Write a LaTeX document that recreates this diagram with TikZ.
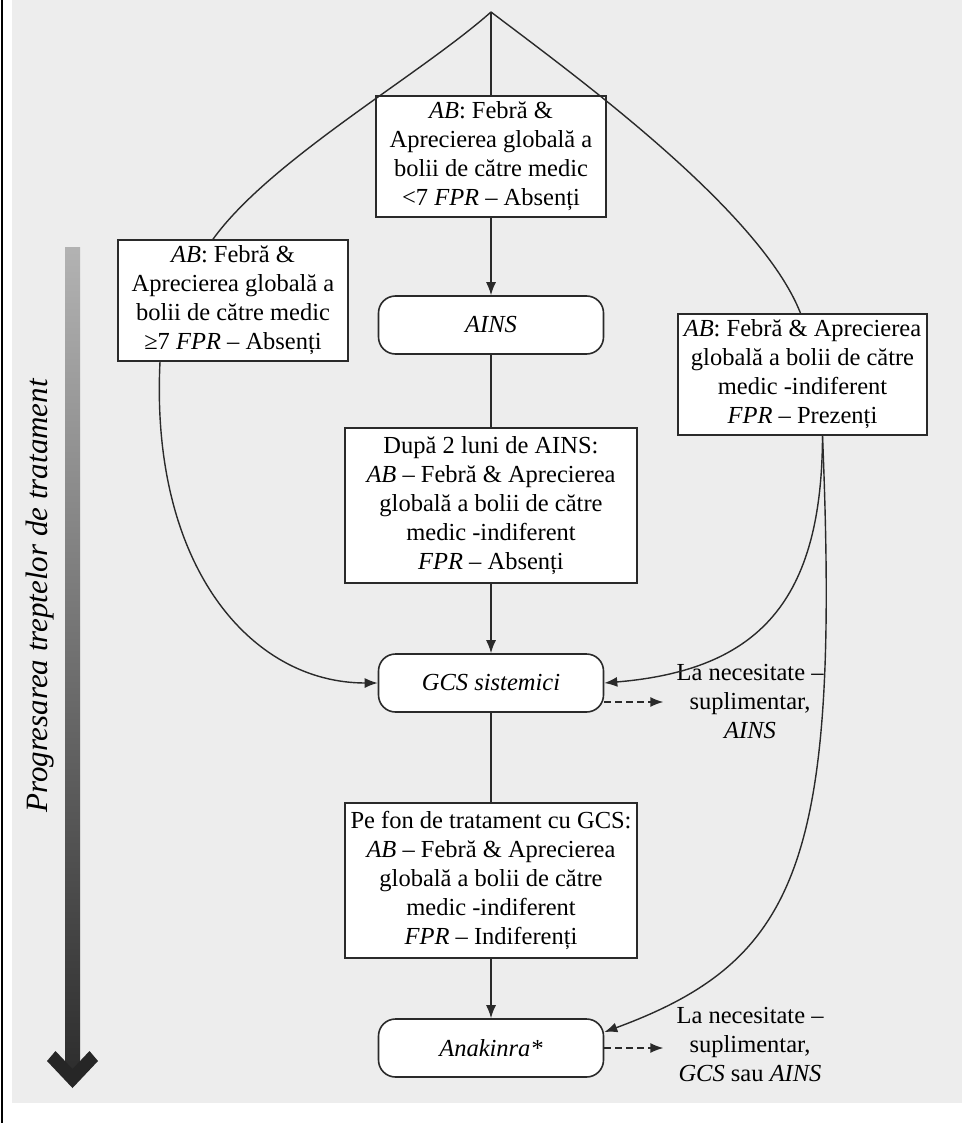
\documentclass[tikz,border=0pt]{standalone}
\usepackage{fontspec}
\setmainfont{Liberation Serif}
\usetikzlibrary{arrows.meta}
\definecolor{paper}{HTML}{EDEDED}
\definecolor{ink}{HTML}{2A2A2A}
\begin{document}
\begin{tikzpicture}[x=1pt,y=-1pt,
  txt/.style={font=\fontsize{24.5}{29}\selectfont},
  box/.style={txt, draw=ink, line width=1.6pt, fill=white, align=center,
    inner sep=0pt},
  pill/.style={draw=ink, line width=1.6pt, fill=white, align=center,
    rounded corners=17pt, minimum width=225pt, minimum height=58pt, inner sep=0pt,
    font=\fontsize{24.5}{29}\selectfont\itshape},
  note/.style={txt, align=center, inner sep=0pt},
  link/.style={draw=ink, line width=1.4pt},
  tip/.style={link, -{Latex[length=13pt,width=10pt]}},
  dtip/.style={link, dashed, dash pattern=on 7pt off 4pt, -{Latex[length=13pt,width=10pt]}}
]
% canvas
\useasboundingbox (0,0) rectangle (962,1123);
\fill[white] (0,0) rectangle (962,1123);
\fill[paper] (12,0) rectangle (962,1103);
\draw[black, line width=2pt] (1.5,0) -- (1.5,1123);

% progression bar on the left
\shade[top color=black!30, bottom color=black!82] (65,247) rectangle (80,1070);
\fill[black!85] (72.5,1088) -- (47,1061) -- (55.5,1051) -- (72.5,1069)
  -- (89.5,1051) -- (98,1061) -- cycle;
\node[inner sep=0pt, rotate=90, font=\fontsize{31}{35}\selectfont\itshape] (prog) at (40,596)
  {Progresarea treptelor de tratament};

% boxes
\coordinate (apex) at (491,12);
\node[box, minimum width=230pt, minimum height=121pt] (top) at (491,156.5)
  {\textit{AB}: Febră \&\\Aprecierea globală a\\bolii de către medic\\<7 \textit{FPR} – Absenți};
\node[box, minimum width=230pt, minimum height=121pt] (left) at (233,300.5)
  {\textit{AB}: Febră \&\\Aprecierea globală a\\bolii de către medic\\≥7 \textit{FPR} – Absenți};
\node[box, minimum width=249pt, minimum height=121pt] (right) at (802.5,374.5)
  {\textit{AB}: Febră \& Aprecierea\\globală a bolii de către\\medic -indiferent\\\textit{FPR} – Prezenți};
\node[pill] (ains) at (491,325) {AINS};
\node[box, minimum width=292pt, minimum height=155pt] (dupa) at (491,505.5)
  {După 2 luni de AINS:\\\textit{AB} – Febră \& Aprecierea\\globală a bolii de către\\medic -indiferent\\\textit{FPR} – Absenți};
\node[pill] (gcs) at (491,683) {GCS sistemici};
\node[box, minimum width=292pt, minimum height=155pt] (pefon) at (491,880.5)
  {Pe fon de tratament cu GCS:\\\textit{AB} – Febră \& Aprecierea\\globală a bolii de către\\medic -indiferent\\\textit{FPR} – Indiferenți};
\node[pill] (anak) at (491,1048) {Anakinra*};

% side notes
\node[note] (note1) at (750,702) {La necesitate –\\suplimentar,\\\textit{AINS}};
\node[note] (note2) at (750,1044) {La necesitate –\\suplimentar,\\\textit{GCS} sau \textit{AINS}};

% central column
\draw[link] (apex) -- (top.north);
\draw[tip] (top.south) -- (ains.north);
\draw[link] (ains.south) -- (dupa.north);
\draw[tip] (dupa.south) -- (gcs.north);
\draw[link] (gcs.south) -- (pefon.north);
\draw[tip] (pefon.south) -- (anak.north);

% side branches
\draw[link] (apex) .. controls (420,75) and (270,160) .. ([xshift=-20pt]left.north);
\draw[link] (apex) .. controls (574,75) and (760,210) .. ([xshift=-2pt]right.north);
\draw[tip] ([xshift=-73pt]left.south) .. controls (150,565) and (250,683) .. (gcs.west);
\draw[tip] ([xshift=20pt]right.south) .. controls (822,600) and (760,670) .. (gcs.east);
\draw[tip] ([xshift=20pt]right.south) .. controls (840,860) and (800,960) .. (anak.8);

% optional additions
\draw[dtip] ([yshift=-19pt]gcs.east) -- ([yshift=-19pt,xshift=-13pt]gcs.east -| note1.west);
\draw[dtip] (anak.east) -- ([xshift=-13pt]anak.east -| note2.west);
\end{tikzpicture}
\end{document}
